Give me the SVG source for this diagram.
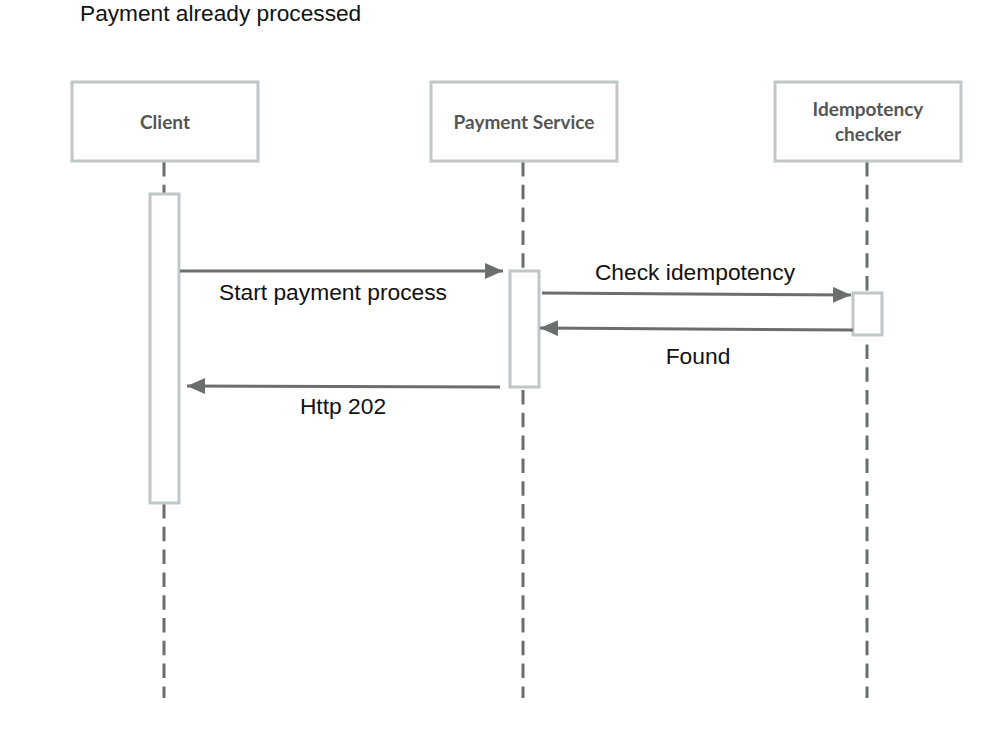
<svg xmlns="http://www.w3.org/2000/svg" width="1007" height="740" viewBox="0 0 1007 740">
<style>
.box{fill:#fff;stroke:#c1c6c9;stroke-width:3}
.act{fill:#fff;stroke:#c1c6c9;stroke-width:3}
.life{stroke:#6b6e6f;stroke-width:3;stroke-dasharray:14.5 8.3}
.msg{stroke:#6b6e6f;stroke-width:3;fill:none}
.nl{font-family:Lato,"Liberation Sans",sans-serif;font-weight:bold;font-size:19px;fill:#555;text-anchor:middle}
.ml{font-family:"Liberation Sans",Arial,sans-serif;font-size:22.8px;fill:#111;text-anchor:middle}
</style>
<defs>
<marker id="ah" markerWidth="20" markerHeight="18" refX="18" refY="8" orient="auto" markerUnits="userSpaceOnUse">
<path d="M0,0 L18,8 L0,16 z" fill="#6b6e6f"/>
</marker>
</defs>
<rect width="1007" height="740" fill="#fff"/>
<text x="80" y="21" font-family="'Liberation Sans',Arial,sans-serif" font-size="22.7" fill="#111">Payment already processed</text>
<g id="lifelines">
<line class="life" x1="164" y1="162" x2="164" y2="698"/>
<line class="life" x1="523" y1="162" x2="523" y2="698"/>
<line class="life" x1="867" y1="162" x2="867" y2="698"/>
</g>
<g id="client">
<rect class="box" x="72" y="82" width="186" height="79"/>
<text class="nl" x="165" y="129">Client</text>
<rect class="act" x="150" y="194" width="29" height="309"/>
</g>
<g id="payment-service">
<rect class="box" x="431" y="82" width="186" height="79"/>
<text class="nl" x="524" y="129">Payment Service</text>
<rect class="act" x="510" y="271" width="29" height="116"/>
</g>
<g id="idempotency-checker">
<rect class="box" x="775" y="82" width="186" height="79"/>
<text class="nl" x="868" y="116">Idempotency</text>
<text class="nl" x="868" y="141">checker</text>
<rect class="act" x="853" y="293" width="29" height="42"/>
</g>
<g id="connectors">
<line class="msg" x1="180" y1="271" x2="503" y2="271" marker-end="url(#ah)"/>
<text class="ml" x="333" y="300">Start payment process</text>
<line class="msg" x1="542" y1="293" x2="851" y2="295" marker-end="url(#ah)"/>
<text class="ml" x="695" y="280">Check idempotency</text>
<line class="msg" x1="853" y1="330" x2="540" y2="328" marker-end="url(#ah)"/>
<text class="ml" x="698" y="364">Found</text>
<line class="msg" x1="500" y1="387" x2="187" y2="386" marker-end="url(#ah)"/>
<text class="ml" x="343" y="414">Http 202</text>
</g>
</svg>
